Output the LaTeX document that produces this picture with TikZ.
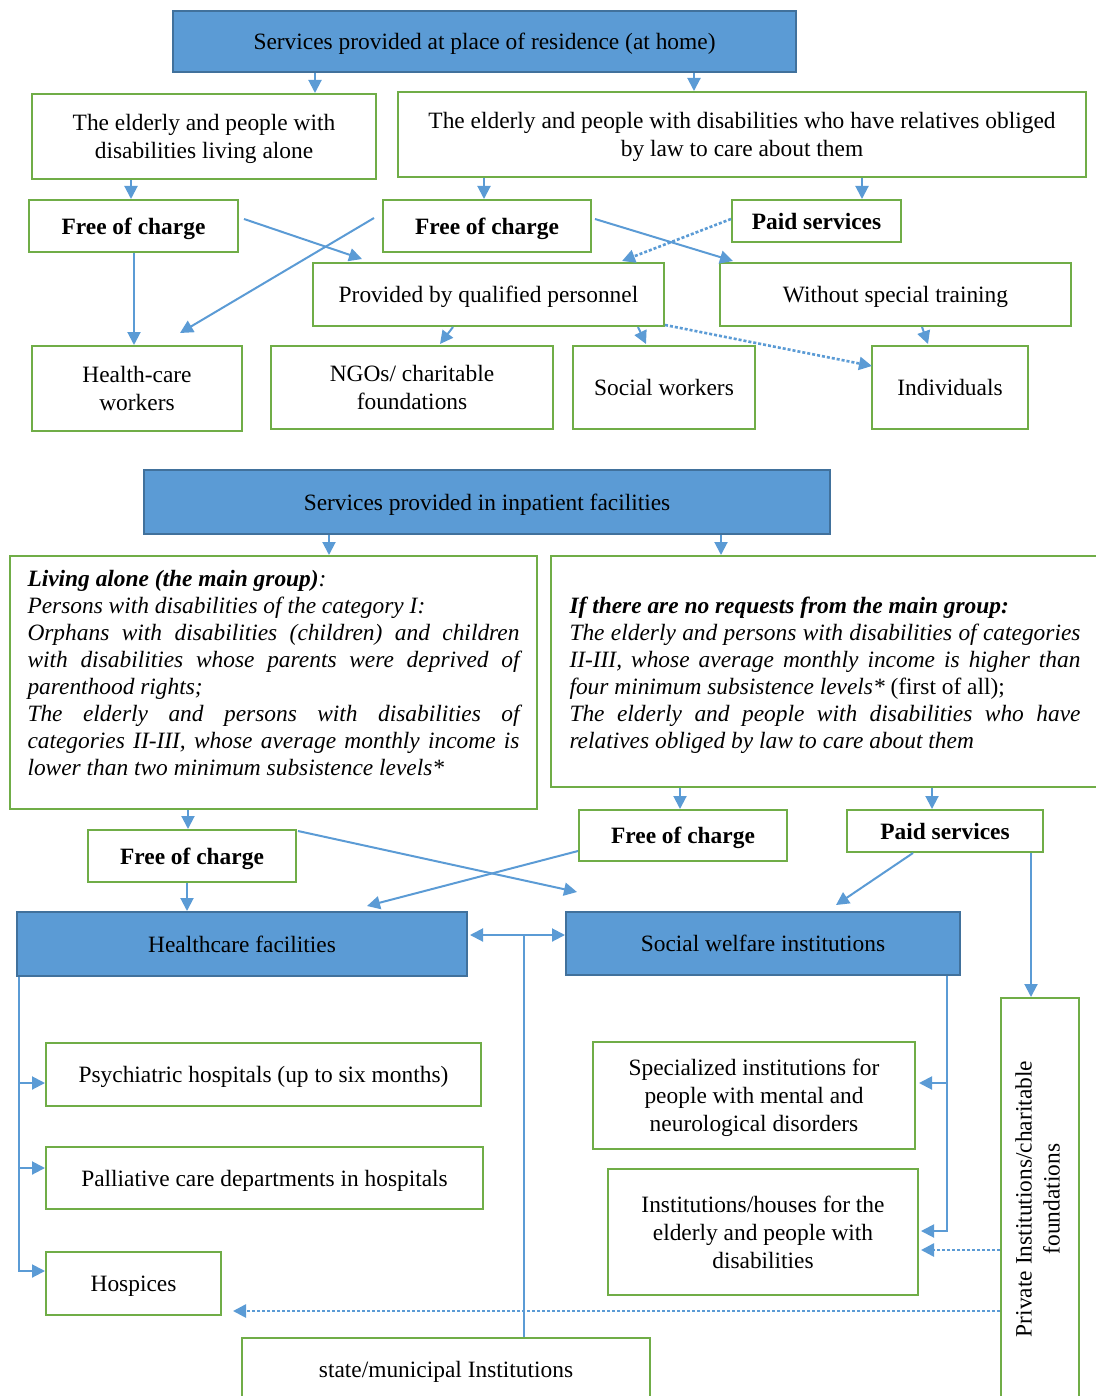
\documentclass[tikz,border=0pt]{standalone}
\usepackage{fontspec}
\setmainfont{Liberation Serif}
\usepackage{graphicx}
\usetikzlibrary{arrows.meta,calc}
\definecolor{bfill}{HTML}{5B9BD5}
\definecolor{bdraw}{HTML}{41719C}
\definecolor{gdraw}{HTML}{70AD47}
\definecolor{acol}{HTML}{5B9BD5}
\newcommand{\jline}[1]{\makebox[\linewidth][s]{#1}\\}
\begin{document}
\begin{tikzpicture}[x=0.5pt,y=-0.5pt,
  every node/.style={font=\fontsize{11.7}{14}\selectfont, inner sep=0pt},
  gframe/.style={draw=gdraw, line width=1pt, fill=white},
  gbox/.style={gframe, align=center, text depth=0pt},
  bbox/.style={draw=bdraw, line width=1pt, fill=bfill, align=center, text depth=0pt},
  conn/.style={draw=acol, line width=1pt},
  arr/.style={conn, -{Triangle[length=6.5pt,width=6.5pt]}},
  darr/.style={conn, {Triangle[length=6.5pt,width=6.5pt]}-{Triangle[length=6.5pt,width=6.5pt]}},
  dotarr/.style={arr, line width=1.3pt, dash pattern=on 1.5pt off 1pt},
]
\useasboundingbox (0,0) rectangle (1096,1396);

% ---------- upper part ----------
\node[bbox, minimum width=311.5pt, minimum height=30.5pt] (top) at (484.5,41.5) {Services provided at place of residence (at home)};
\node[gbox, minimum width=172pt, minimum height=42.5pt] (alone) at (204,136.5) {The elderly and people with\\disabilities living alone};
\node[gbox, minimum width=344pt, minimum height=42.5pt] (rel) at (742,134.5) {The elderly and people with disabilities who have relatives obliged\\by law to care about them};
\node[gbox, minimum width=104.5pt, minimum height=26pt] (foc1) at (133.5,226) {\textbf{Free of charge}};
\node[gbox, minimum width=104pt, minimum height=26pt] (foc2) at (487,226) {\textbf{Free of charge}};
\node[gbox, minimum width=84.5pt, minimum height=21pt] (paid1) at (816.5,221) {\textbf{Paid services}};
\node[gbox, minimum width=175.5pt, minimum height=31.5pt] (qual) at (488.5,294.5) {Provided by qualified personnel};
\node[gbox, minimum width=175.5pt, minimum height=31.5pt] (without) at (895.5,294.5) {Without special training};
\node[gbox, minimum width=105pt, minimum height=42.5pt] (health) at (137,388.5) {Health-care\\workers};
\node[gbox, minimum width=141pt, minimum height=41.5pt] (ngo) at (412,387.5) {NGOs/ charitable\\foundations};
\node[gbox, minimum width=91pt, minimum height=41.5pt] (social) at (664,387.5) {Social workers};
\node[gbox, minimum width=78pt, minimum height=41.5pt] (indiv) at (950,387.5) {Individuals};

\draw[arr] (top.south -| 315,0) -- (alone.north -| 315,0);
\draw[arr] (top.south -| 694,0) -- (rel.north -| 694,0);
\draw[arr] (alone.south -| 131,0) -- (foc1.north -| 131,0);
\draw[arr] (rel.south -| 484,0) -- (foc2.north -| 484,0);
\draw[arr] (rel.south -| 862,0) -- (paid1.north -| 862,0);
\draw[arr] (foc1.south -| 134,0) -- (health.north -| 134,0);
\draw[arr] ($(foc1.east)+(5,-7)$) -- ($(qual.north)+(-126.5,-3)$);
\draw[arr] ($(foc2.west)+(-8,-8)$) -- ($(health.north)+(43,-12)$);
\draw[arr] ($(foc2.east)+(3,-7)$) -- ($(without.north)+(-162.5,-1)$);
\draw[dotarr] ($(paid1.west)+(0,-2)$) -- ($(qual.north)+(133.5,-1)$);
\draw[arr] ($(qual.south)+(-35.5,0)$) -- ($(ngo.north)+(28,-1)$);
\draw[arr] ($(qual.south)+(149.5,0)$) -- ($(social.north)+(-18,-1)$);
\draw[dotarr] ($(qual.south east)+(0,-2)$) -- ($(indiv.west)+(1,-21.5)$);
\draw[arr] ($(without.south)+(26.5,0)$) -- ($(indiv.north)+(-22,-1)$);

% ---------- lower part ----------
\node[bbox, minimum width=343pt, minimum height=32pt] (inpat) at (487,502) {Services provided in inpatient facilities};
\node[gframe, minimum width=263.5pt, minimum height=126.5pt] (left) at (273.5,682.5) {\parbox{246pt}{\fontsize{11.7}{13.5}\selectfont\itshape
\vspace*{4pt}
\textbf{Living alone (the main group)}:\\
Persons with disabilities of the category I:\\
\jline{Orphans with disabilities (children) and children}
\jline{with disabilities whose parents were deprived of}
parenthood rights;\\
\jline{The elderly and persons with disabilities of}
\jline{categories II-III, whose average monthly income is}
lower than two minimum subsistence levels*\par\rule{0pt}{0pt}}};
\node[gframe, minimum width=274pt, minimum height=115.5pt] (right) at (825,671.5) {\parbox{255.5pt}{\fontsize{11.7}{13.5}\selectfont\itshape
\vspace*{4pt}
\textbf{If there are no requests from the main group:}\\
\jline{The elderly and persons with disabilities of categories}
\jline{II-III, whose average monthly income is higher than}
four minimum subsistence levels* {\upshape (first of all);}\\
\jline{The elderly and people with disabilities who have}
relatives obliged by law to care about them}};
\node[gbox, minimum width=104pt, minimum height=26pt] (foc3) at (192,856) {\textbf{Free of charge}};
\node[gbox, minimum width=104pt, minimum height=25.5pt] (foc4) at (683,835.5) {\textbf{Free of charge}};
\node[gbox, minimum width=98pt, minimum height=21pt] (paid2) at (945,831) {\textbf{Paid services}};
\node[bbox, minimum width=225pt, minimum height=32pt] (hcf) at (242,944) {Healthcare facilities};
\node[bbox, minimum width=197pt, minimum height=31.5pt] (swi) at (763,943.5) {Social welfare institutions};
\node[gbox, minimum width=217.5pt, minimum height=31.5pt] (psych) at (263.5,1074.5) {Psychiatric hospitals (up to six months)};
\node[gbox, minimum width=218.5pt, minimum height=31pt] (pall) at (264.5,1178) {Palliative care departments in hospitals};
\node[gbox, minimum width=87.5pt, minimum height=31.5pt] (hosp) at (133.5,1283.5) {Hospices};
\node[gbox, minimum width=161pt, minimum height=53.5pt] (spec) at (754,1095.5) {Specialized institutions for\\people with mental and\\neurological disorders};
\node[gbox, minimum width=155pt, minimum height=63pt] (inst) at (763,1232) {Institutions/houses for the\\elderly and people with\\disabilities};
\node[gframe, minimum width=39pt, minimum height=201pt] (priv) at (1040,1199) {\rotatebox{90}{\begin{tabular}{@{}c@{}}Private Institutions/charitable\\ foundations\end{tabular}}};
\node[gbox, minimum width=204pt, minimum height=31pt] (state) at (446,1369) {state/municipal Institutions};

\draw[arr] (inpat.south -| 329,0) -- (left.north -| 329,0);
\draw[arr] (inpat.south -| 721,0) -- (right.north -| 721,0);
\draw[arr] (left.south -| 188,0) -- (foc3.north -| 188,0);
\draw[arr] (right.south -| 680,0) -- (foc4.north -| 680,0);
\draw[arr] (right.south -| 932,0) -- (paid2.north -| 932,0);
\draw[arr] (foc3.south -| 187,0) -- (hcf.north -| 187,0);
\draw[arr] ($(foc3.north east)+(1,2)$) -- ($(swi.north west)+(12,-19)$);
\draw[arr] ($(foc4.west)+(0,15.5)$) -- ($(hcf.north east)+(-101,-5)$);
\draw[arr] ($(paid2.south)+(-32,0)$) -- ($(swi.north)+(73,-6)$);
\draw[arr] (paid2.south -| 1031,0) -- (priv.north -| 1031,0);

\coordinate (j) at (524,935);
\draw[darr] ($(hcf.east)+(2,-9)$) -- ($(swi.west)+(0,-8.5)$);
\draw[conn] (state.north -| j) -- (j);

\draw[arr] (hcf.south -| 19,0) |- ($(psych.west)+(0,8.5)$);
\draw[arr] (hcf.south -| 19,0) |- ($(pall.west)+(0,-10)$);
\draw[arr] (hcf.south -| 19,0) |- ($(hosp.west)+(0,-12.5)$);

\draw[arr] (swi.south -| 947,0) |- ($(spec.east)+(3,-12.5)$);
\draw[arr] (swi.south -| 947,0) |- ($(inst.east)+(2,-1)$);

\draw[dotarr] (priv.west |- 0,1250) -- ($(inst.east |- 0,1250)+(2,0)$);
\draw[dotarr] (priv.west |- 0,1311) -- ($(hosp.east |- 0,1311)+(11,0)$);
\end{tikzpicture}
\end{document}
